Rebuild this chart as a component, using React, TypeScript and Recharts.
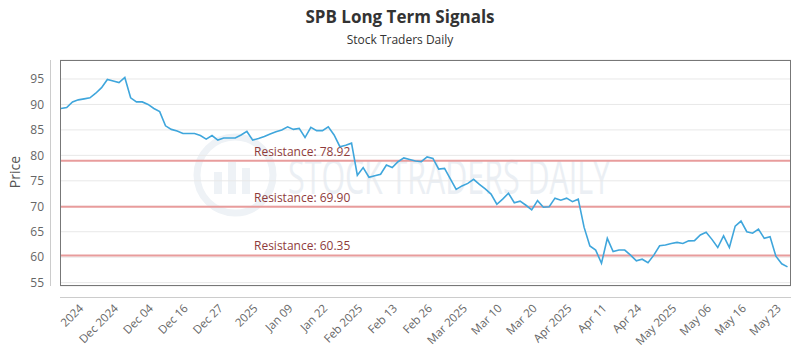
import { LineChart, Line, XAxis, YAxis, CartesianGrid, ReferenceLine } from "recharts";

// daily closes (oldest first)
const prices = [
  89.2, 89.4, 90.5, 90.9, 91.1, 91.3, 92.2, 93.3, 94.9, 94.6,
  94.3, 95.3, 91.3, 90.5, 90.5, 90.0, 89.2, 88.6, 85.8, 85.1,
  84.8, 84.3, 84.3, 84.3, 83.9, 83.2, 83.9, 83.0, 83.4, 83.4,
  83.4, 84.0, 84.7, 83.0, 83.3, 83.7, 84.2, 84.65, 85.0, 85.6,
  85.1, 85.3, 83.5, 85.5, 84.85, 84.85, 85.6, 84.0, 81.7, 82.0,
  82.4, 76.1, 77.6, 75.7, 76.0, 76.3, 78.1, 77.6, 78.75, 79.5,
  79.2, 78.9, 78.75, 79.7, 79.4, 77.3, 77.45, 75.4, 73.3, 74.0,
  74.5, 75.3, 74.3, 73.4, 72.4, 70.4, 71.4, 72.55, 70.7, 71.0,
  70.2, 69.3, 71.1, 69.8, 69.9, 71.6, 71.2, 71.6, 70.9, 71.4,
  65.9, 62.2, 61.4, 58.8, 63.7, 61.1, 61.4, 61.4, 60.4, 59.3,
  59.6, 58.9, 60.4, 62.25, 62.4, 62.7, 62.9, 62.7, 63.2, 63.25,
  64.35, 64.9, 63.5, 61.9, 64.2, 61.9, 66.1, 67.1, 65.0, 64.7,
  65.5, 63.7, 64.0, 60.2, 58.7, 58.1,
];

const tickLabels = [
  "2024", "Dec 2024", "Dec 04", "Dec 16", "Dec 27", "2025", "Jan 09", "Jan 22",
  "Feb 2025", "Feb 13", "Feb 26", "Mar 2025", "Mar 10", "Mar 20", "Apr 2025",
  "Apr 11", "Apr 24", "May 2025", "May 06", "May 16", "May 23",
];
const tickIndex = tickLabels.map((_, k) => 4 + k * 6);

const yTicks = [55, 60, 65, 70, 75, 80, 85, 90, 95];
const resistance = [78.92, 69.9, 60.35];

const data = prices.map((p, i) => ({ i, price: p }));

const FONT = "'Open Sans', sans-serif";

function XTick({ x, y, payload }: any) {
  const k = tickIndex.indexOf(payload.value);
  return (
    <text
      x={x}
      y={y + 23}
      transform={`rotate(-45 ${x} ${y + 23})`}
      textAnchor="end"
      fontSize={11.5}
      fill="#666"
      fontFamily={FONT}
    >
      {tickLabels[k]}
    </text>
  );
}

function ResLabel({ viewBox, value }: any) {
  return (
    <text x={viewBox.x + 194} y={viewBox.y - 5} fontSize={12} fill="#8e3b3b" fontFamily={FONT}>
      {`Resistance: ${value.toFixed(2)}`}
    </text>
  );
}

export default function App() {
  return (
    <div style={{ position: "absolute", left: 0, top: 0, width: 800, height: 350, background: "#fff" }}>
      {/* watermark */}
      <svg width={800} height={350} style={{ position: "absolute", left: 0, top: 0 }}>
        <circle cx={235} cy={175} r={38} fill="none" stroke="#eef2f6" strokeWidth={7} />
        <rect x={214} y={172} width={8} height={22} fill="#eef2f6" />
        <rect x={228} y={162} width={8} height={32} fill="#eef2f6" />
        <rect x={242} y={168} width={8} height={26} fill="#eef2f6" />
        <text
          x={288}
          y={194}
          fontSize={48}
          fill="#ebeff4"
          fontFamily={FONT}
          textLength={322}
          lengthAdjust="spacingAndGlyphs"
        >
          STOCK TRADERS DAILY
        </text>
      </svg>

      <div style={{ position: "absolute", left: 0, top: 0 }}>
        <LineChart width={800} height={350} data={data} margin={{ top: 60, right: 9, left: 0, bottom: 0 }}>
          <CartesianGrid horizontal vertical={false} stroke="#e8e8e8" />
          <XAxis
            type="number"
            dataKey="i"
            domain={[-0.15, 125.6]}
            ticks={tickIndex}
            interval={0}
            tick={<XTick />}
            axisLine={false}
            tickLine={false}
            tickSize={0}
            tickMargin={0}
            height={64}
          />
          <YAxis
            domain={[54.34, 98.73]}
            ticks={yTicks}
            width={60}
            axisLine={false}
            tickLine={false}
            tickSize={0}
            tickMargin={16}
            tick={{ fontSize: 12, fill: "#666", fontFamily: FONT }}
            allowDataOverflow
          />
          {resistance.map((r) => (
            <ReferenceLine
              key={r}
              y={r}
              stroke="#e89c9c"
              strokeWidth={2}
              label={(p: any) => <ResLabel viewBox={p.viewBox} value={r} />}
            />
          ))}
          <Line
            type="linear"
            dataKey="price"
            stroke="#3fa6dc"
            strokeWidth={1.6}
            dot={false}
            isAnimationActive={false}
          />
        </LineChart>
      </div>

      {/* frame, offset axes, titles */}
      <svg width={800} height={350} style={{ position: "absolute", left: 0, top: 0, pointerEvents: "none" }}>
        <rect x={60.5} y={60.5} width={730} height={225} fill="none" stroke="#777" strokeWidth={1} />
        <line x1={50.5} y1={60} x2={50.5} y2={286} stroke="#ccc" />
        <line x1={60} y1={297.5} x2={791} y2={297.5} stroke="#ccc" />
        <text x={400} y={23} textAnchor="middle" fontSize={17} fontWeight="bold" fill="#333" fontFamily={FONT}>
          SPB Long Term Signals
        </text>
        <text x={400} y={44} textAnchor="middle" fontSize={12} fill="#333" fontFamily={FONT}>
          Stock Traders Daily
        </text>
        <text x={20} y={172} transform="rotate(-90 20 172)" textAnchor="middle" fontSize={14} fill="#555" fontFamily={FONT}>
          Price
        </text>
      </svg>
    </div>
  );
}
